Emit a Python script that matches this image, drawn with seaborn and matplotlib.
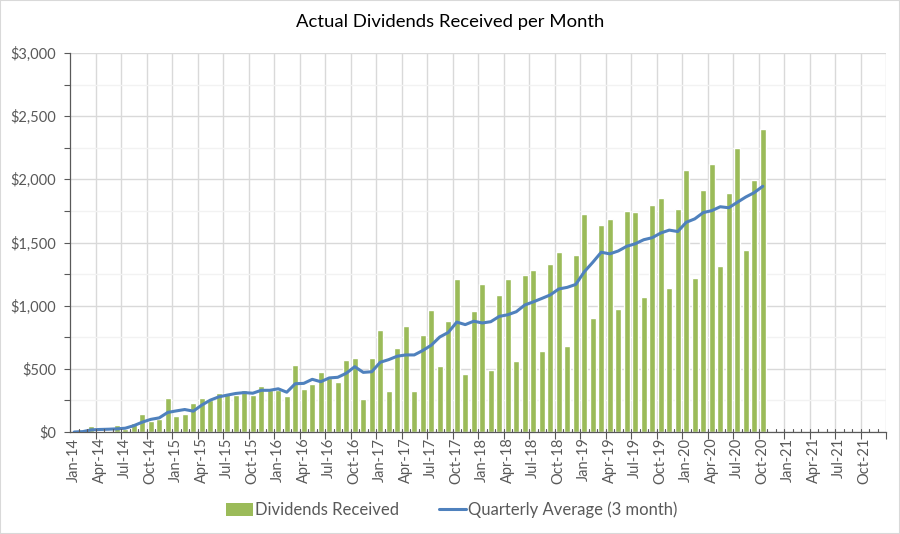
import numpy as np
import pandas as pd
import matplotlib
matplotlib.use("Agg")
import matplotlib.pyplot as plt
import matplotlib.ticker as mticker
from matplotlib.patches import Patch, Rectangle
from matplotlib.lines import Line2D
import matplotlib.transforms as mtransforms
import seaborn as sns

# ---- data ----
years = [14, 15, 16, 17, 18, 19, 20, 21]
month_names = ["Jan", "Feb", "Mar", "Apr", "May", "Jun",
               "Jul", "Aug", "Sep", "Oct", "Nov", "Dec"]
months = [f"{m}-{y}" for y in years for m in month_names]  # Jan-14 .. Dec-21

dividends = [0, 5, 45, 10, 10, 55, 25, 70, 140, 90, 105, 270,
             125, 140, 230, 270, 255, 310, 310, 295, 330, 295, 365, 330,
             330, 285, 530, 340, 380, 475, 430, 395, 570, 585, 260, 585,
             810, 325, 665, 840, 325, 770, 965, 520, 880, 1210, 460, 960,
             1170, 490, 1085, 1210, 560, 1245, 1285, 640, 1330, 1425, 680, 1400,
             1725, 905, 1640, 1685, 975, 1750, 1745, 1070, 1800, 1855, 1140, 1765,
             2075, 1220, 1915, 2120, 1315, 1890, 2250, 1440, 1995, 2400]

quarterly_avg = [0, 3, 17, 20, 22, 25, 30, 50, 78, 100, 112, 155,
                 167, 178, 165, 213, 252, 278, 292, 305, 312, 307, 330, 330,
                 342, 315, 382, 385, 417, 398, 428, 433, 465, 517, 472, 477,
                 552, 573, 600, 610, 610, 645, 687, 752, 788, 870, 850, 877,
                 863, 873, 915, 928, 952, 1005, 1030, 1057, 1085, 1132, 1145, 1168,
                 1268, 1343, 1423, 1410, 1433, 1470, 1490, 1522, 1538, 1575, 1598, 1587,
                 1660, 1687, 1737, 1752, 1783, 1775, 1818, 1860, 1895, 1945]

bar_color = "#9BBB59"
line_color = "#4F81BD"
text_color = "#595959"

df_bars = pd.DataFrame({"month": months[:len(dividends)], "value": dividends})
df_line = pd.DataFrame({"pos": np.arange(len(quarterly_avg)), "avg": quarterly_avg})

sns.set_style("white")
plt.rcParams["font.family"] = ["Lato", "DejaVu Sans"]

fig = plt.figure(figsize=(9, 5.34), dpi=100)
ax = fig.add_axes([70 / 900, 1 - 432 / 534, (886 - 70) / 900, (432 - 53) / 534])

sns.barplot(data=df_bars, x="month", y="value", order=months, color=bar_color,
            saturation=1, width=0.68, ax=ax, zorder=2)
sns.lineplot(data=df_line, x="pos", y="avg", color=line_color, linewidth=2.2,
             ax=ax, zorder=3)

n = len(months)
ax.set_xlim(-0.5, n - 0.5)
ax.set_ylim(0, 3000)
ax.set_xlabel("")
ax.set_ylabel("")

# y axis
ax.yaxis.set_major_locator(mticker.MultipleLocator(500))
ax.yaxis.set_minor_locator(mticker.MultipleLocator(250))
ax.yaxis.set_major_formatter(mticker.FuncFormatter(lambda v, p: f"${v:,.0f}"))
ax.grid(axis="y", which="major", color="#D9D9D9", linewidth=1.0, zorder=0)
ax.grid(axis="y", which="minor", color="#F2F2F2", linewidth=1.0, zorder=0)
ax.tick_params(axis="y", which="both", direction="out", length=4, width=0.8,
               color="#595959", left=True, labelsize=10.5, labelcolor=text_color, pad=6)

# x axis: gridlines every 3 months at boundaries, labels at every 3rd month
grid_pos = [3 * k - 0.5 for k in range(1, n // 3 + 1)]
ax.set_xticks(grid_pos)
ax.set_xticklabels([""] * len(grid_pos))
ax.set_xticks(list(range(0, n, 3)), minor=True)
ax.set_xticklabels(months[::3], minor=True, rotation=90)
ax.grid(axis="x", which="major", color="#D9D9D9", linewidth=1.0, zorder=0)
ax.tick_params(axis="x", which="major", direction="out", length=5, width=0.8,
               color="#595959", bottom=True)
ax.tick_params(axis="x", which="minor", length=0, labelsize=10.5,
               labelcolor=text_color, pad=4)

# small month ticks on the axis
trans = mtransforms.blended_transform_factory(ax.transData, ax.transAxes)
for b in np.arange(0.5, n - 0.5, 1):
    ax.plot([b, b], [0, 0.007], color="#595959", linewidth=0.8, transform=trans,
            clip_on=False, zorder=4)

for side in ["top", "right"]:
    ax.spines[side].set_visible(False)
ax.spines["left"].set_color("#595959")
ax.spines["bottom"].set_color("#595959")
ax.spines["left"].set_linewidth(0.9)
ax.spines["bottom"].set_linewidth(0.9)

fig.text(450 / 900, 1 - 22 / 534, "Actual Dividends Received per Month",
         ha="center", va="center", fontsize=13.3, color="#000000")

handles = [Patch(facecolor=bar_color, edgecolor="none", label="Dividends Received"),
           Line2D([0], [0], color=line_color, linewidth=2.2,
                  label="Quarterly Average (3 month)")]
fig.legend(handles=handles, loc="center", bbox_to_anchor=(452 / 900, 1 - 510 / 534),
           ncol=2, frameon=False, fontsize=12, labelcolor=text_color,
           handlelength=1.6, handleheight=0.8, columnspacing=2.4, handletextpad=0.15)

fig.add_artist(Rectangle((0, 0), 1, 1, transform=fig.transFigure, fill=False,
                         edgecolor="#D9D9D9", linewidth=1.5))

fig.savefig("out.png", dpi=100)
